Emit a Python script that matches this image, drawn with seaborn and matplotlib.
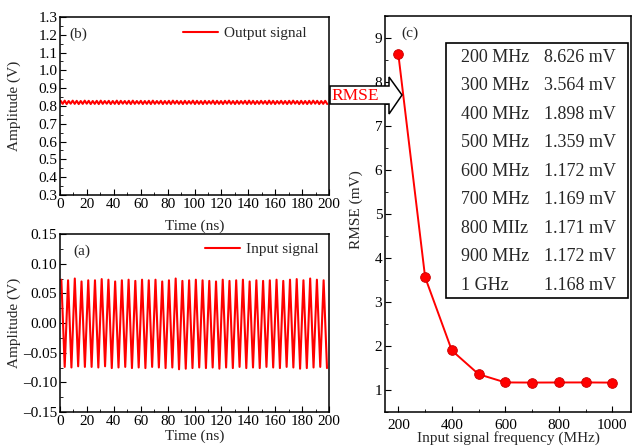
import numpy as np
import matplotlib
matplotlib.use("Agg")
import matplotlib.pyplot as plt
import seaborn as sns
from matplotlib.patches import Polygon, Rectangle
from matplotlib.ticker import MultipleLocator, FuncFormatter

# ---- data ----
freq_mhz = [200, 300, 400, 500, 600, 700, 800, 900, 1000]
rmse_mv = [8.626, 3.564, 1.898, 1.359, 1.172, 1.169, 1.171, 1.172, 1.168]

table_freq = ["200 MHz", "300 MHz", "400 MHz", "500 MHz", "600 MHz",
              "700 MHz", "800 MIIz", "900 MHz", "1 GHz"]
table_rmse = ["8.626 mV", "3.564 mV", "1.898 mV", "1.359 mV", "1.172 mV",
              "1.169 mV", "1.171 mV", "1.172 mV", "1.168 mV"]

# input signal (200 MHz): peak / trough of each cycle, 40 cycles
input_peaks = [0.073, 0.072, 0.075, 0.070, 0.072, 0.072, 0.074, 0.073, 0.070, 0.072,
               0.073, 0.071, 0.073, 0.072, 0.073, 0.070, 0.072, 0.075, 0.071, 0.072,
               0.073, 0.072, 0.071, 0.070, 0.073, 0.071, 0.072, 0.073, 0.070, 0.072,
               0.071, 0.072, 0.073, 0.071, 0.073, 0.074, 0.072, 0.075, 0.073, 0.072]
input_troughs = [-0.074, -0.075, -0.073, -0.074, -0.074, -0.075, -0.073, -0.076, -0.075, -0.074,
                 -0.076, -0.075, -0.076, -0.074, -0.075, -0.076, -0.075, -0.078, -0.077, -0.076,
                 -0.075, -0.076, -0.075, -0.077, -0.075, -0.076, -0.074, -0.076, -0.075, -0.076,
                 -0.074, -0.075, -0.076, -0.074, -0.075, -0.077, -0.076, -0.075, -0.074, -0.076]

# output signal: small ripple around 0.82 V
output_peaks = [0.829, 0.830, 0.828, 0.830, 0.829, 0.828, 0.830, 0.829, 0.828, 0.829,
                0.830, 0.828, 0.829, 0.828, 0.830, 0.829, 0.828, 0.829, 0.830, 0.828,
                0.829, 0.828, 0.829, 0.830, 0.828, 0.829, 0.828, 0.829, 0.830, 0.829,
                0.828, 0.829, 0.828, 0.830, 0.829, 0.828, 0.829, 0.828, 0.830, 0.829,
                0.828, 0.829, 0.830, 0.828, 0.829, 0.828, 0.829, 0.830, 0.829, 0.828,
                0.829, 0.828, 0.830, 0.829, 0.828, 0.829, 0.828, 0.829, 0.830, 0.828,
                0.829, 0.828, 0.829, 0.830, 0.829, 0.828, 0.829]
output_troughs = [0.812, 0.811, 0.813, 0.812, 0.811, 0.812, 0.813, 0.811, 0.812, 0.811,
                  0.812, 0.813, 0.811, 0.812, 0.811, 0.813, 0.812, 0.811, 0.812, 0.813,
                  0.811, 0.812, 0.811, 0.812, 0.813, 0.811, 0.812, 0.811, 0.813, 0.812,
                  0.811, 0.812, 0.813, 0.811, 0.812, 0.811, 0.812, 0.813, 0.811, 0.812,
                  0.811, 0.813, 0.812, 0.811, 0.812, 0.813, 0.811, 0.812, 0.811, 0.812,
                  0.813, 0.811, 0.812, 0.811, 0.813, 0.812, 0.811, 0.812, 0.813, 0.811,
                  0.812, 0.811, 0.812, 0.813, 0.811, 0.812, 0.811]


def interleave(hi, lo):
    vals = []
    for a, b in zip(hi, lo):
        vals += [a, b]
    return np.array(vals)


input_v = interleave(input_peaks, input_troughs)
input_t = 1.0 + 2.5 * np.arange(len(input_v))
output_v = interleave(output_peaks, output_troughs)
output_t = 0.5 + 1.49 * np.arange(len(output_v))

# ---- style ----
sns.set_style("ticks")
plt.rcParams['font.family'] = ['Liberation Serif', 'DejaVu Serif']
plt.rcParams['xtick.direction'] = 'in'
plt.rcParams['ytick.direction'] = 'in'
plt.rcParams['xtick.major.size'] = 4
plt.rcParams['ytick.major.size'] = 4
plt.rcParams['xtick.minor.size'] = 2
plt.rcParams['ytick.minor.size'] = 2
plt.rcParams['axes.linewidth'] = 1.1
plt.rcParams['axes.edgecolor'] = 'black'
plt.rcParams['xtick.color'] = 'black'
plt.rcParams['ytick.color'] = 'black'

W, H = 633, 447
fig = plt.figure(figsize=(6.33, 4.47), dpi=100)


def ax_px(left, top, right, bottom):
    return fig.add_axes([left / W, 1 - bottom / H, (right - left) / W, (bottom - top) / H])


ax_b = ax_px(60, 17, 329, 195)
ax_a = ax_px(60, 234, 329, 412)
ax_c = ax_px(385, 16, 631, 412)

red = '#ff0000'
tick_fs = 11
label_fs = 11


def dash_fmt(v, pos):
    s = '%.2f' % abs(v)
    return ('\u2013' + s) if v < -1e-9 else s


# ---- (b) output signal ----
sns.lineplot(x=output_t, y=output_v, ax=ax_b, color=red, lw=1.5, sort=False,
             label='Output signal')
ax_b.set_xlim(0, 200)
ax_b.set_ylim(0.3, 1.3)
ax_b.xaxis.set_major_locator(MultipleLocator(20))
ax_b.xaxis.set_minor_locator(MultipleLocator(10))
ax_b.yaxis.set_major_locator(MultipleLocator(0.1))
ax_b.yaxis.set_minor_locator(MultipleLocator(0.05))
ax_b.set_xlabel('Time (ns)', fontsize=label_fs, labelpad=6)
ax_b.set_ylabel('Amplitude (V)', fontsize=label_fs)
ax_b.text(0.035, 0.904, '(b)', transform=ax_b.transAxes, fontsize=11, va='center')
ax_b.legend(loc='upper right', bbox_to_anchor=(0.94, 0.98), frameon=False,
            fontsize=11, handlelength=2.3, handletextpad=0.4, borderaxespad=0)

# ---- (a) input signal ----
sns.lineplot(x=input_t, y=input_v, ax=ax_a, color=red, lw=1.5, sort=False,
             label='Input signal')
ax_a.set_xlim(0, 200)
ax_a.set_ylim(-0.15, 0.15)
ax_a.xaxis.set_major_locator(MultipleLocator(20))
ax_a.xaxis.set_minor_locator(MultipleLocator(10))
ax_a.yaxis.set_major_locator(MultipleLocator(0.05))
ax_a.yaxis.set_minor_locator(MultipleLocator(0.025))
ax_a.yaxis.set_major_formatter(FuncFormatter(dash_fmt))
ax_a.set_xlabel('Time (ns)', fontsize=label_fs, labelpad=1)
ax_a.set_ylabel('Amplitude (V)', fontsize=label_fs)
ax_a.text(0.048, 0.904, '(a)', transform=ax_a.transAxes, fontsize=11, va='center')
ax_a.legend(loc='upper right', bbox_to_anchor=(0.985, 0.985), frameon=False,
            fontsize=11, handlelength=2.3, handletextpad=0.4, borderaxespad=0)

for ax in (ax_a, ax_b):
    ax.tick_params(labelsize=tick_fs, pad=2)
    ax.yaxis.set_label_coords((21 - 60) / 269, 0.5)

# ---- (c) RMSE vs frequency ----
sns.lineplot(x=freq_mhz, y=rmse_mv, ax=ax_c, color=red, lw=1.4, marker='o',
             markersize=7, markerfacecolor=red, markeredgecolor='#c80000',
             markeredgewidth=0.6)
ax_c.set_xlim(150, 1070)
ax_c.set_ylim(0.5, 9.5)
ax_c.xaxis.set_major_locator(MultipleLocator(200))
ax_c.xaxis.set_minor_locator(MultipleLocator(100))
ax_c.yaxis.set_major_locator(MultipleLocator(1))
ax_c.yaxis.set_minor_locator(MultipleLocator(0.5))
ax_c.tick_params(labelsize=tick_fs, pad=2)
ax_c.tick_params(axis='x', pad=5)
ax_c.set_xlabel('Input signal frequency (MHz)', fontsize=label_fs, labelpad=-1)
ax_c.set_ylabel('RMSE (mV)', fontsize=label_fs)
ax_c.yaxis.set_label_coords((363 - 385) / 246, 0.51)
ax_c.text(0.065, 0.957, '(c)', transform=ax_c.transAxes, fontsize=11, va='center')

# result table in the upper right of panel (c)
box_l, box_r, box_t, box_b = 446, 628, 43, 298
ax_c.add_patch(Rectangle(((box_l - 385) / 246, (412 - box_b) / 396),
                         (box_r - box_l) / 246, (box_b - box_t) / 396,
                         transform=ax_c.transAxes, fill=False, ec='black', lw=1.2,
                         zorder=5))
for i, (f, r) in enumerate(zip(table_freq, table_rmse)):
    y_px = 57 + i * 28.5
    fig.text(461 / W, 1 - y_px / H, f, fontsize=13, va='center', ha='left')
    fig.text(616 / W, 1 - y_px / H, r, fontsize=13, va='center', ha='right')

# hollow arrow from (b) to (c) labelled RMSE
arrow_px = [(330, 86), (389, 86), (389, 77), (402, 95), (389, 114), (389, 104), (330, 104)]
arrow = Polygon([(x / W, 1 - y / H) for x, y in arrow_px], closed=True,
                transform=fig.transFigure, fill=True, fc='white', ec='black', lw=1.1,
                zorder=10)
fig.patches.append(arrow)
fig.text(355 / W, 1 - 96 / H, 'RMSE', color=red, fontsize=12.5, ha='center',
         va='center', zorder=11)

fig.savefig('out.png', dpi=100)
